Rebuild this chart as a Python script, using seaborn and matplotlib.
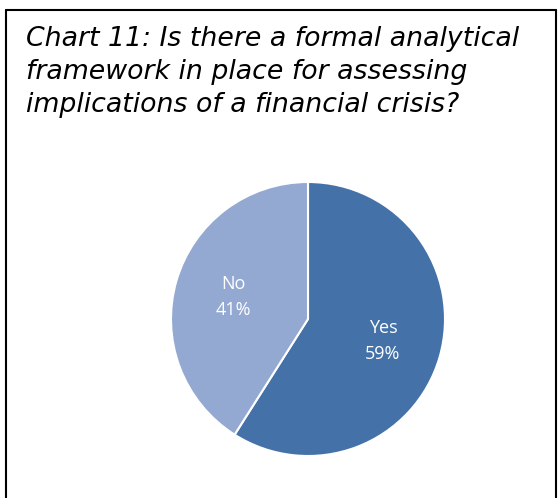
import matplotlib
matplotlib.use("Agg")
import matplotlib.pyplot as plt
import seaborn as sns
from matplotlib.lines import Line2D

labels = ["Yes", "No"]
values = [59, 41]
colors = ["#4472A8", "#93A9D1"]
title = "Chart 11: Is there a formal analytical\nframework in place for assessing\nimplications of a financial crisis?"

sns.set_theme(style="white")
plt.rcParams['font.family'] = ['DejaVu Sans']

fig = plt.figure(figsize=(5.59, 4.98), dpi=100)
fig.patch.set_facecolor("white")

W, H = 559, 498
def fx(x): return x / W
def fy(y): return 1 - y / H
for (x0, y0, x1, y1) in [(6, 10.5, 556, 10.5), (6, 10.5, 6, 498), (556, 10.5, 556, 498)]:
    fig.add_artist(Line2D([fx(x0), fx(x1)], [fy(y0), fy(y1)], color="black", lw=1.5))

fig.text(fx(26), fy(26), title, ha="left", va="top", fontsize=19.3,
         style="italic", color="black", linespacing=1.34)

r = 137
cx, cy = 308, 319
ax = fig.add_axes([fx(cx - r), fy(cy + r), 2 * r / W, 2 * r / H])
texts = [f"{l}\n{v}%" for l, v in zip(labels, values)]
wedges, tx = ax.pie(values, labels=texts, colors=colors, startangle=90,
                    counterclock=False, labeldistance=0.57,
                    wedgeprops=dict(edgecolor="white", linewidth=1.5),
                    textprops=dict(color="white", fontsize=13, ha="center",
                                   va="center", family="Open Sans", linespacing=1.6))
ax.set_aspect("equal")
ax.set_xlim(-1.0, 1.0)
ax.set_ylim(-1.0, 1.0)
ax.axis("off")

fig.savefig("out.png", dpi=100)
